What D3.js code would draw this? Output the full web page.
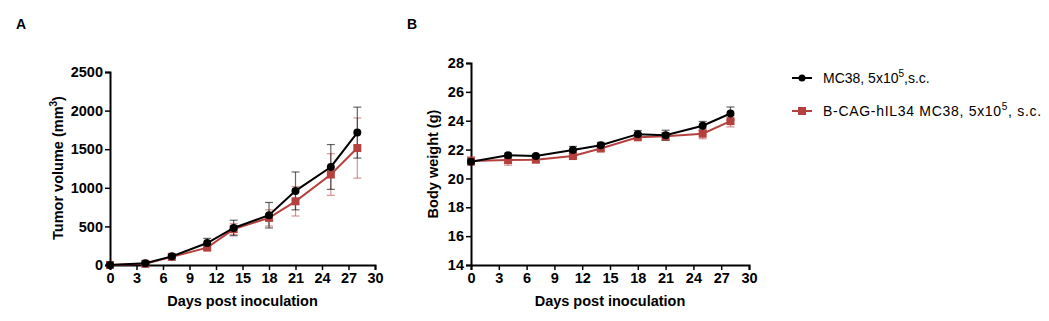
<!DOCTYPE html>
<html><head><meta charset="utf-8">
<script src="https://cdn.jsdelivr.net/npm/d3@7"></script>
<style>body{margin:0;background:#fff;}svg{display:block;font-family:"Liberation Sans",Arial,sans-serif;}</style>
</head><body><svg id="c" width="1049" height="321"></svg>
<script>
const days = [0,4,7,11,14,18,21,25,28];
const tumorMC38 = [0,22,112,285,480,645,960,1270,1715];
const tumorMC38Err = [5,12,25,60,100,165,245,290,330];
const tumorHIL34 = [0,15,105,225,465,610,825,1172,1515];
const tumorHIL34Err = [5,10,20,30,70,105,190,270,390];
const weightMC38 = [21.15,21.6,21.55,21.97,22.3,23.07,22.99,23.65,24.5];
const weightMC38Err = [0.15,0.15,0.12,0.25,0.2,0.25,0.35,0.3,0.45];
const weightHIL34 = [21.2,21.27,21.3,21.55,22.07,22.85,22.92,23.1,23.97];
const weightHIL34Err = [0.3,0.35,0.2,0.2,0.15,0.15,0.25,0.35,0.4];
const xTicks = [0,3,6,9,12,15,18,21,24,27,30];
const tumorTicks = [0,500,1000,1500,2000,2500];
const weightTicks = [14,16,18,20,22,24,26,28];
const legendLabels = [["MC38, 5x10","5",",s.c."],["B-CAG-hIL34 MC38, 5x10","5",", s.c."]];
const BLACK = "#000", RED = "#b5413f";

const svg = d3.select("#c");

function panel(o){
  const g = svg.append("g");
  const x = d3.scaleLinear().domain([0,30]).range([o.x0,o.x1]);
  const y = d3.scaleLinear().domain(o.yd).range([265,o.yTop]);
  const xa = g.append("g").attr("transform","translate(0,265)").call(d3.axisBottom(x).tickValues(xTicks).tickFormat(d3.format("d")).tickSize(5).tickPadding(3));
  const ya = g.append("g").attr("transform",`translate(${o.x0},0)`).call(d3.axisLeft(y).tickValues(o.yt).tickFormat(d3.format("d")).tickSize(5).tickPadding(2));
  [xa,ya].forEach(a=>{
    a.select(".domain").attr("stroke","#000").attr("stroke-width",2);
    a.selectAll(".tick line").attr("stroke","#000").attr("stroke-width",1.5);
    a.selectAll("text").attr("font-size",14.5).attr("font-weight","bold").attr("fill","#000").attr("font-family","Liberation Sans, Arial, sans-serif");
  });
  g.append("text").attr("x",(o.x0+o.x1)/2).attr("y",306).attr("text-anchor","middle")
    .attr("font-size",14.5).attr("font-weight","bold").text("Days post inoculation");
  const yt = g.append("text").attr("transform",`translate(${o.ytx},${o.yty}) rotate(-90)`).attr("text-anchor","middle")
    .attr("font-size",14.5).attr("font-weight","bold");
  yt.append("tspan").text(o.ytitle[0]);
  if(o.ytitle[1]){ yt.append("tspan").attr("dy",-6).attr("font-size",10).text(o.ytitle[1]); yt.append("tspan").attr("dy",6).text(o.ytitle[2]); }
  g.append("text").attr("x",o.lx).attr("y",29).attr("font-size",14).attr("font-weight","bold").text(o.letter);

  const series = [
    {v:o.s2, e:o.e2, c:RED, ec:"rgba(181,65,63,0.55)", shape:"sq"},
    {v:o.s1, e:o.e1, c:BLACK, ec:"rgba(0,0,0,0.6)", shape:"ci"}
  ];
  series.forEach(s=>{
    const eg = g.append("g").attr("stroke",s.ec).attr("stroke-width",1.2);
    days.forEach((d,i)=>{
      const cx = x(d), t = y(s.v[i]+s.e[i]), b = y(s.v[i]-s.e[i]);
      eg.append("line").attr("x1",cx).attr("x2",cx).attr("y1",t).attr("y2",b);
      eg.append("line").attr("x1",cx-4).attr("x2",cx+4).attr("y1",t).attr("y2",t);
      eg.append("line").attr("x1",cx-4).attr("x2",cx+4).attr("y1",b).attr("y2",b);
    });
  });
  series.forEach(s=>{
    const line = d3.line().x((d,i)=>x(days[i])).y(d=>y(d));
    g.append("path").datum(s.v).attr("d",line).attr("fill","none").attr("stroke",s.c).attr("stroke-width",2);
    s.v.forEach((v,i)=>{
      if(s.shape==="ci") g.append("circle").attr("cx",x(days[i])).attr("cy",y(v)).attr("r",4).attr("fill",s.c);
      else g.append("rect").attr("x",x(days[i])-4).attr("y",y(v)-4).attr("width",8).attr("height",8).attr("fill",s.c);
    });
  });
}

panel({x0:110,x1:375,yTop:72,yd:[0,2500],yt:tumorTicks,s1:tumorMC38,e1:tumorMC38Err,s2:tumorHIL34,e2:tumorHIL34Err,
  ytitle:["Tumor volume (mm","3",")"],ytx:63,yty:168,lx:16,letter:"A"});
panel({x0:471,x1:749,yTop:63,yd:[14,28],yt:weightTicks,s1:weightMC38,e1:weightMC38Err,s2:weightHIL34,e2:weightHIL34Err,
  ytitle:["Body weight (g)"],ytx:438,yty:164,lx:407,letter:"B"});

const lg = svg.append("g");
const legendColors = [BLACK, RED];
const legendSpacing = [0, 0.7];
legendLabels.forEach((lab,i)=>{
  const yy = 78 + i*33;
  lg.append("line").attr("x1",792).attr("x2",812).attr("y1",yy).attr("y2",yy).attr("stroke",legendColors[i]).attr("stroke-width",2);
  if(i===0) lg.append("circle").attr("cx",802).attr("cy",yy).attr("r",3.5).attr("fill",BLACK);
  else lg.append("rect").attr("x",798).attr("y",yy-4).attr("width",8).attr("height",8).attr("fill",RED);
  const t = lg.append("text").attr("x",823).attr("y",yy+5).attr("font-size",14).attr("fill","#000").attr("letter-spacing",legendSpacing[i]);
  t.append("tspan").text(lab[0]);
  t.append("tspan").attr("dy",-6).attr("font-size",10).text(lab[1]);
  t.append("tspan").attr("dy",6).text(lab[2]);
});
</script></body></html>
